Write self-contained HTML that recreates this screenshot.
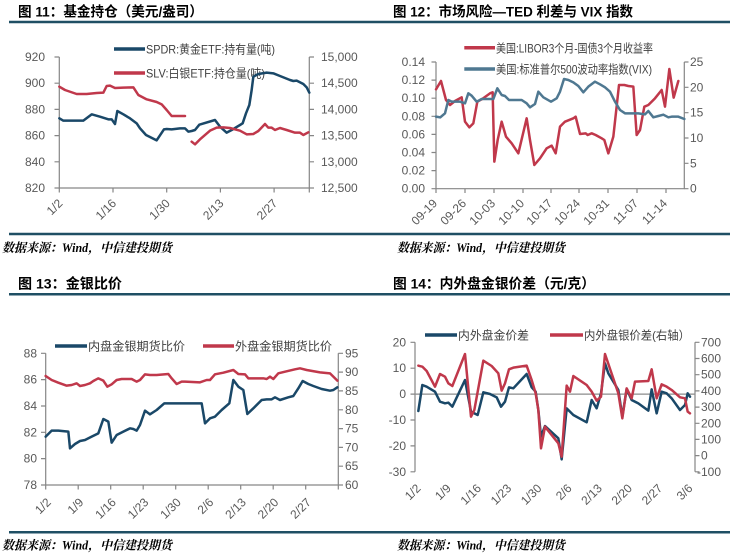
<!DOCTYPE html>
<html><head><meta charset="utf-8">
<style>
html,body{margin:0;padding:0;background:#fff;}
svg{display:block;}
.t{font-family:"Liberation Sans","Noto Sans CJK SC",sans-serif;font-weight:bold;font-size:14px;fill:#000;}
.src{font-family:"Liberation Serif","Noto Serif CJK SC",serif;font-style:italic;font-weight:bold;font-size:12.5px;fill:#000;}
.ax{font-family:"Liberation Sans","Noto Sans CJK SC",sans-serif;font-size:12px;fill:#595959;}
.ax2{font-family:"Liberation Sans",sans-serif;font-size:11px;fill:#595959;}
.lg{font-family:"Liberation Sans","Noto Sans CJK SC",sans-serif;font-size:12px;fill:#404040;}
.axl{stroke:#868686;stroke-width:1.2;fill:none;}
.blue{stroke:#1a4868;stroke-width:7.5;fill:none;stroke-linejoin:round;stroke-linecap:round;}
.red{stroke:#c0384b;stroke-width:7.5;fill:none;stroke-linejoin:round;stroke-linecap:round;}
.vix{stroke:#4f7891;stroke-width:7.5;fill:none;stroke-linejoin:round;stroke-linecap:round;}
.sep{stroke:#1f4f64;stroke-width:2.5;}
</style></head>
<body>
<svg width="730" height="554" viewBox="0 0 730 554" xmlns="http://www.w3.org/2000/svg">
<rect width="730" height="554" fill="#fff"/>

<!-- separators -->
<line class="sep" x1="9" y1="22" x2="730" y2="22"/>
<line class="sep" x1="9" y1="234" x2="730" y2="234"/>
<line class="sep" x1="9" y1="294.3" x2="730" y2="294.3"/>
<line class="sep" x1="9" y1="532.3" x2="730" y2="532.3"/>

<!-- titles -->
<text class="t" x="18" y="16.5" textLength="185" lengthAdjust="spacingAndGlyphs">图 11：基金持仓（美元/盎司）</text>
<text class="t" x="393" y="16.5" textLength="240" lengthAdjust="spacingAndGlyphs">图 12：市场风险—TED 利差与 VIX 指数</text>
<text class="t" x="18" y="288.5" textLength="104" lengthAdjust="spacingAndGlyphs">图 13：金银比价</text>
<text class="t" x="393" y="288.5" textLength="202" lengthAdjust="spacingAndGlyphs">图 14：内外盘金银价差（元/克）</text>

<!-- sources -->
<text class="src" x="2" y="252" textLength="170" lengthAdjust="spacingAndGlyphs">数据来源：Wind，中信建投期货</text>
<text class="src" x="397" y="252" textLength="168" lengthAdjust="spacingAndGlyphs">数据来源：Wind，中信建投期货</text>
<text class="src" x="2" y="549.5" textLength="170" lengthAdjust="spacingAndGlyphs">数据来源：Wind，中信建投期货</text>
<text class="src" x="397" y="549.5" textLength="168" lengthAdjust="spacingAndGlyphs">数据来源：Wind，中信建投期货</text>

<!-- ================= CHART 1 ================= -->
<g>
<path class="axl" d="M59.3 57 V188 H309.3 V57"/>
<path class="axl" d="M54.5 57H59.3 M54.5 83.2H59.3 M54.5 109.4H59.3 M54.5 135.6H59.3 M54.5 161.8H59.3 M54.5 188H59.3
 M309.3 57H314 M309.3 83.2H314 M309.3 109.4H314 M309.3 135.6H314 M309.3 161.8H314 M309.3 188H314
 M59.3 188V192.5 M113 188V192.5 M166.7 188V192.5 M220.4 188V192.5 M274.1 188V192.5 M309.3 188V192.5"/>
<g class="ax" text-anchor="end">
<text x="45" y="61">920</text><text x="45" y="87.2">900</text><text x="45" y="113.4">880</text>
<text x="45" y="139.6">860</text><text x="45" y="165.8">840</text><text x="45" y="192">820</text>
</g>
<g class="ax">
<text x="321" y="61">15,000</text><text x="321" y="87.2">14,500</text><text x="321" y="113.4">14,000</text>
<text x="321" y="139.6">13,500</text><text x="321" y="165.8">13,000</text><text x="321" y="192">12,500</text>
</g>
<g class="ax" font-size="11.5" text-anchor="end">
<text transform="translate(63.3,204) rotate(-45)">1/2</text>
<text transform="translate(117,204) rotate(-45)">1/16</text>
<text transform="translate(170.7,204) rotate(-45)">1/30</text>
<text transform="translate(224.4,204) rotate(-45)">2/13</text>
<text transform="translate(278.1,204) rotate(-45)">2/27</text>
</g>
<line x1="114" y1="49" x2="145" y2="49" stroke="#1a4868" stroke-width="3.5"/>
<text class="lg" x="146" y="53.5" textLength="129" lengthAdjust="spacingAndGlyphs">SPDR:黄金ETF:持有量(吨)</text>
<line x1="114" y1="73" x2="145" y2="73" stroke="#c0384b" stroke-width="3.5"/>
<text class="lg" x="146" y="77.5" textLength="119" lengthAdjust="spacingAndGlyphs">SLV:白银ETF:持仓量(吨)</text>
<g transform="scale(0.33333)">
<polyline class="blue" points="178,355 190,362 250,362 275,343 300,350 325,358 335,358 345,372 352,333 370,343 390,355 410,370 420,385 438,405 470,421 492,388 500,387 515,388 540,385 555,385 565,395 575,393 585,390 598,374 645,360 660,380 680,398 695,390 720,375 728,370 738,340 748,315 755,270 760,230 775,222 800,218 820,220 840,228 870,240 880,243 890,242 910,252 920,262 928,278"/>
<polyline class="red" points="178,260 195,270 230,282 260,282 290,279 310,278 320,258 330,257 345,264 370,263 400,262 415,285 440,298 470,306 485,313 500,330 515,348 555,348"/>
<polyline class="red" points="575,425 585,433 600,418 630,392 650,383 670,382 690,384 720,392 740,403 760,402 775,393 795,372 805,383 815,383 825,390 840,384 860,390 885,398 900,398 910,405 925,397"/>
</g>
</g>

<!-- ================= CHART 2 ================= -->
<g>
<path class="axl" d="M436 62 V188.7 H684.3 V62"/>
<path class="axl" d="M431.5 62H436 M431.5 80.1H436 M431.5 98.2H436 M431.5 116.3H436 M431.5 134.4H436 M431.5 152.5H436 M431.5 170.6H436 M431.5 188.7H436
 M684.3 62H688.5 M684.3 87.3H688.5 M684.3 112.7H688.5 M684.3 138H688.5 M684.3 163.3H688.5 M684.3 188.7H688.5
 M436 188.7V193 M465 188.7V193 M494 188.7V193 M523 188.7V193 M551 188.7V193 M579 188.7V193 M608 188.7V193 M637 188.7V193 M666 188.7V193"/>
<g class="ax" font-size="11.5" text-anchor="end">
<text x="425" y="66">0.14</text><text x="425" y="84.1">0.12</text><text x="425" y="102.2">0.10</text>
<text x="425" y="120.3">0.08</text><text x="425" y="138.4">0.06</text><text x="425" y="156.5">0.04</text>
<text x="425" y="174.6">0.02</text><text x="425" y="192.7">0.00</text>
</g>
<g class="ax" font-size="11.5">
<text x="690" y="66">25</text><text x="690" y="91.3">20</text><text x="690" y="116.7">15</text>
<text x="690" y="142">10</text><text x="690" y="167.3">5</text><text x="690" y="192.7">0</text>
</g>
<g class="ax" font-size="9.5" text-anchor="end">
<text transform="translate(438,204) rotate(-45)">09-19</text>
<text transform="translate(467,204) rotate(-45)">09-26</text>
<text transform="translate(496,204) rotate(-45)">10-03</text>
<text transform="translate(525,204) rotate(-45)">10-10</text>
<text transform="translate(553,204) rotate(-45)">10-17</text>
<text transform="translate(581,204) rotate(-45)">10-24</text>
<text transform="translate(610,204) rotate(-45)">10-31</text>
<text transform="translate(639,204) rotate(-45)">11-07</text>
<text transform="translate(668,204) rotate(-45)">11-14</text>
</g>
<line x1="464.3" y1="47.7" x2="495" y2="47.7" stroke="#c0384b" stroke-width="3.5"/>
<text class="lg" x="496" y="52.3" textLength="157" lengthAdjust="spacingAndGlyphs">美国:LIBOR3个月-国债3个月收益率</text>
<line x1="464.3" y1="69" x2="495" y2="69" stroke="#4f7891" stroke-width="3.5"/>
<text class="lg" x="496" y="73.6" textLength="156" lengthAdjust="spacingAndGlyphs">美国:标准普尔500波动率指数(VIX)</text>
<g transform="translate(365,0) scale(0.33333)">
<polyline class="red" points="213,268 228,243 243,300 255,315 270,303 290,292 300,365 313,382 325,370 337,305 350,298 375,280 383,277 388,485 398,420 410,365 423,410 440,430 460,460 485,355 495,420 508,495 525,475 545,445 560,437 572,460 585,380 600,365 625,355 632,350 645,402 662,400 668,405 680,400 692,405 710,415 718,420 730,460 745,410 762,255 778,255 790,258 805,260 815,405 825,390 838,320 850,315 870,295 890,270 900,320 913,207 926,293 940,243"/>
<polyline class="vix" points="213,350 226,352 240,340 250,300 260,305 285,305 300,310 310,280 320,287 335,305 350,297 375,297 385,297 397,265 410,285 420,288 432,300 470,300 485,310 495,322 510,312 520,275 535,292 558,305 575,295 585,275 597,237 610,240 625,247 640,258 655,277 670,260 690,245 705,253 720,262 735,275 750,305 765,330 780,340 820,340 840,343 850,333 865,352 880,348 895,344 910,352 920,350 940,350 958,357"/>
</g>
</g>

<!-- ================= CHART 3 ================= -->
<g>
<path class="axl" d="M45.7 353.3 V485 H338.3 V353.3"/>
<path class="axl" d="M41 353.3H45.7 M41 379.6H45.7 M41 406H45.7 M41 432.3H45.7 M41 458.6H45.7 M41 485H45.7
 M338.3 353.3H343 M338.3 372.1H343 M338.3 390.9H343 M338.3 409.8H343 M338.3 428.6H343 M338.3 447.4H343 M338.3 466.2H343 M338.3 485H343
 M45.7 485V489.5 M78.2 485V489.5 M110.7 485V489.5 M143.2 485V489.5 M175.7 485V489.5 M208.2 485V489.5 M240.7 485V489.5 M273.2 485V489.5 M305.7 485V489.5 M338.3 485V489.5"/>
<g class="ax" text-anchor="end">
<text x="37" y="357.3">88</text><text x="37" y="383.6">86</text><text x="37" y="410">84</text>
<text x="37" y="436.3">82</text><text x="37" y="462.6">80</text><text x="37" y="489">78</text>
</g>
<g class="ax">
<text x="345" y="357.3">95</text><text x="345" y="376.1">90</text><text x="345" y="394.9">85</text>
<text x="345" y="413.8">80</text><text x="345" y="432.6">75</text><text x="345" y="451.4">70</text>
<text x="345" y="470.2">65</text><text x="345" y="489">60</text>
</g>
<g class="ax" font-size="11.5" text-anchor="end">
<text transform="translate(51.7,503) rotate(-45)">1/2</text>
<text transform="translate(84.2,503) rotate(-45)">1/9</text>
<text transform="translate(116.7,503) rotate(-45)">1/16</text>
<text transform="translate(149.2,503) rotate(-45)">1/23</text>
<text transform="translate(181.7,503) rotate(-45)">1/30</text>
<text transform="translate(214.2,503) rotate(-45)">2/6</text>
<text transform="translate(246.7,503) rotate(-45)">2/13</text>
<text transform="translate(279.2,503) rotate(-45)">2/20</text>
<text transform="translate(311.7,503) rotate(-45)">2/27</text>
</g>
<line x1="55" y1="346" x2="87" y2="346" stroke="#1a4868" stroke-width="3.5"/>
<text class="lg" x="88" y="350.5" textLength="97" lengthAdjust="spacingAndGlyphs">内盘金银期货比价</text>
<line x1="203" y1="346" x2="234" y2="346" stroke="#c0384b" stroke-width="3.5"/>
<text class="lg" x="235" y="350.5" textLength="97" lengthAdjust="spacingAndGlyphs">外盘金银期货比价</text>
<g transform="translate(0,270) scale(0.33333)">
<polyline class="blue" points="137,500 155,482 175,482 205,485 210,535 225,522 240,513 255,510 275,500 295,490 310,447 325,455 335,518 350,495 370,485 390,475 400,477 410,482 420,465 435,422 450,433 470,420 493,400 600,400 605,400 615,460 630,445 645,440 665,420 688,400 700,330 715,350 730,360 742,432 760,415 785,390 800,388 815,388 825,382 840,390 865,382 880,378 895,355 908,333 925,342 940,348 965,357 990,362 1000,360 1012,352"/>
<polyline class="red" points="137,318 155,330 175,338 200,347 215,345 230,340 240,348 255,345 270,340 280,333 295,325 310,332 322,350 335,343 350,330 365,327 395,327 410,335 420,330 435,313 450,315 470,315 505,312 515,325 530,342 545,335 555,335 600,337 620,330 630,330 645,313 670,308 700,300 715,312 735,313 745,325 790,325 800,327 810,320 820,327 835,310 855,305 885,298 900,295 920,300 960,307 990,310 1000,320 1012,332"/>
</g>
</g>

<!-- ================= CHART 4 ================= -->
<g>
<path class="axl" d="M415 342.3 V471.8 M695 342.3 V471.8"/>
<line x1="415" y1="394.1" x2="695" y2="394.1" stroke="#8c8c8c" stroke-width="1.2"/>
<path class="axl" d="M410.5 342.3H415 M410.5 368.2H415 M410.5 394.1H415 M410.5 420H415 M410.5 445.9H415 M410.5 471.8H415
 M695 342.3H699.5 M695 358.5H699.5 M695 374.7H699.5 M695 390.9H699.5 M695 407.1H699.5 M695 423.3H699.5 M695 439.4H699.5 M695 455.6H699.5 M695 471.8H699.5"/>
<g class="ax" text-anchor="end">
<text x="406" y="346.3">20</text><text x="406" y="372.2">10</text><text x="406" y="398.1">0</text>
<text x="406" y="424">-10</text><text x="406" y="449.9">-20</text><text x="406" y="475.8">-30</text>
</g>
<g class="ax">
<text x="701" y="346.3">700</text><text x="701" y="362.5">600</text><text x="701" y="378.7">500</text>
<text x="701" y="394.9">400</text><text x="701" y="411.1">300</text><text x="701" y="427.3">200</text>
<text x="701" y="443.4">100</text><text x="701" y="459.6">0</text><text x="697" y="475.8">-100</text>
</g>
<g class="ax" font-size="11.5" text-anchor="end">
<text transform="translate(421.5,489) rotate(-45)">1/2</text>
<text transform="translate(451.7,489) rotate(-45)">1/9</text>
<text transform="translate(481.9,489) rotate(-45)">1/16</text>
<text transform="translate(512.1,489) rotate(-45)">1/23</text>
<text transform="translate(542.3,489) rotate(-45)">1/30</text>
<text transform="translate(572.5,489) rotate(-45)">2/6</text>
<text transform="translate(602.7,489) rotate(-45)">2/13</text>
<text transform="translate(632.9,489) rotate(-45)">2/20</text>
<text transform="translate(663.1,489) rotate(-45)">2/27</text>
<text transform="translate(693.3,489) rotate(-45)">3/6</text>
</g>
<line x1="425" y1="335" x2="457" y2="335" stroke="#1a4868" stroke-width="3.5"/>
<text class="lg" x="458" y="339.5" textLength="71" lengthAdjust="spacingAndGlyphs">内外盘金价差</text>
<line x1="550" y1="335" x2="583" y2="335" stroke="#c0384b" stroke-width="3.5"/>
<text class="lg" x="584" y="339.5" textLength="106" lengthAdjust="spacingAndGlyphs">内外盘银价差(右轴）</text>
<g transform="translate(365,270) scale(0.33333)">
<polyline class="blue" points="160,423 172,345 185,350 210,365 225,395 240,400 250,398 262,410 300,330 318,425 338,435 355,367 375,372 395,382 408,410 420,395 432,352 445,355 485,312 500,352 512,365 520,420 528,500 540,468 580,505 590,568 605,415 625,435 665,457 680,390 695,415 708,370 720,280 730,310 760,360 772,440 785,357 800,390 820,400 850,422 860,358 875,430 890,365 905,370 920,385 945,420 960,405 968,370 975,380"/>
<polyline class="red" points="160,287 172,290 185,303 210,350 225,312 240,320 250,340 262,348 300,252 318,440 328,420 355,272 380,288 400,310 410,362 420,340 432,298 445,293 485,287 500,330 512,370 520,420 528,535 540,470 580,520 590,560 605,347 615,365 625,318 665,345 680,365 695,392 708,380 720,252 760,370 772,445 785,355 800,385 810,335 850,333 860,298 875,385 890,343 905,350 920,360 945,382 960,385 968,425 975,430"/>
</g>
</g>

</svg>
</body></html>
